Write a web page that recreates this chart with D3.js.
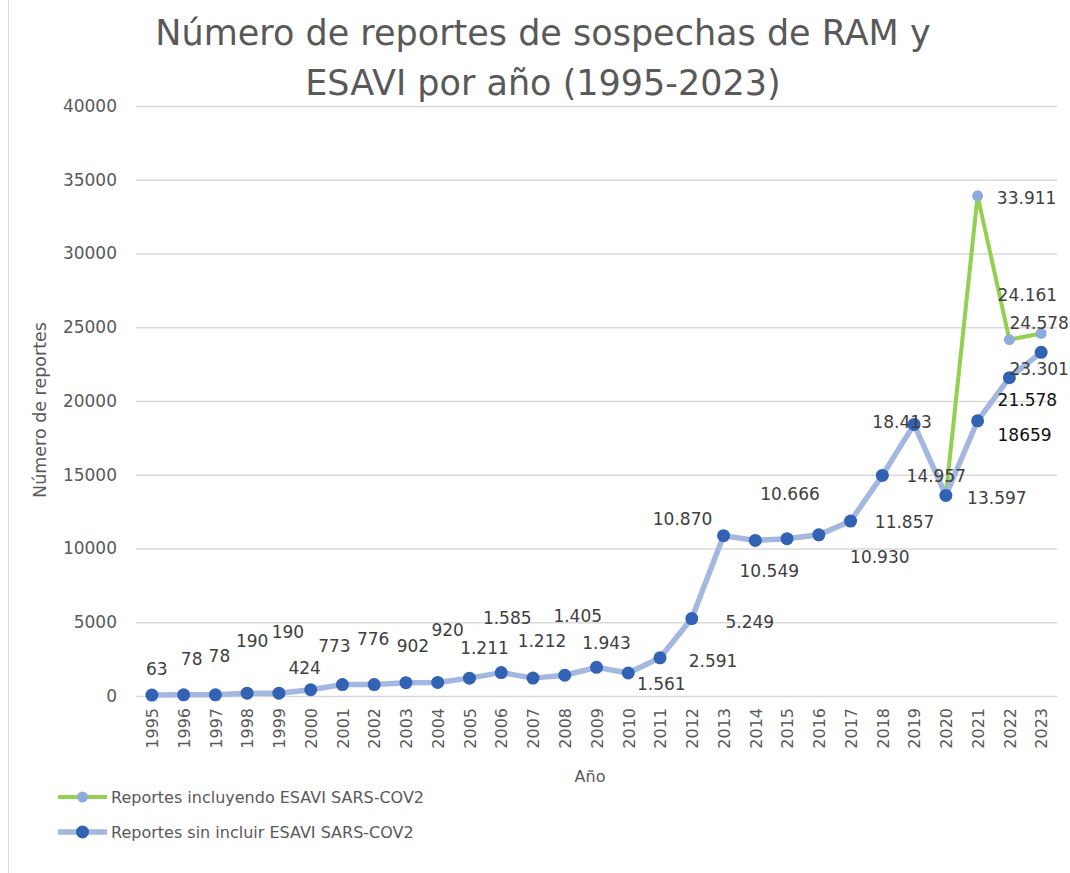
<!DOCTYPE html>
<html>
<head>
<meta charset="utf-8">
<script src="https://cdn.jsdelivr.net/npm/d3@7"></script>
<style>
  body { margin: 0; background: #fff; }
  svg { display: block; font-family: "DejaVu Sans", sans-serif; }
</style>
</head>
<body>
<div id="chart"></div>
<script>
// years on the x axis
var years = [1995, 1996, 1997, 1998, 1999, 2000, 2001, 2002, 2003, 2004, 2005, 2006, 2007, 2008,
  2009, 2010, 2011, 2012, 2013, 2014, 2015, 2016, 2017, 2018, 2019, 2020, 2021, 2022, 2023];

// reports without ESAVI SARS-COV2
var sinEsavi = [63, 78, 78, 190, 190, 424, 773, 776, 902, 920, 1211, 1585, 1212, 1405,
  1943, 1561, 2591, 5249, 10870, 10549, 10666, 10930, 11857, 14957, 18413, 13597, 18659, 21578, 23301];
var sinEsaviLabels = ["63", "78", "78", "190", "190", "424", "773", "776", "902", "920", "1.211", "1.585", "1.212", "1.405",
  "1.943", "1.561", "2.591", "5.249", "10.870", "10.549", "10.666", "10.930", "11.857", "14.957", "18.413", "13.597", "18659", "21.578", "23.301"];

// reports including ESAVI SARS-COV2
var conYears = [2020, 2021, 2022, 2023];
var conEsavi = [13597, 33911, 24161, 24578];
var conEsaviLabels = ["", "33.911", "24.161", "24.578"];

var yTicks = [0, 5000, 10000, 15000, 20000, 25000, 30000, 35000, 40000];

// where each data label sits relative to its point (px)
var sinDx = [5, 8, 4, 5, 9, -6, -8, -1, 7, 10, 15, 6, 9, 13, 10, 33, 53, 58, -41, 14, 3, 61, 54, 54, -12, 51, 47, 18, -2];
var sinDy = [-26, -36, -39, -52, -61, -22, -39, -46, -37, -53, -30, -55, -37, -59, -24, 11, 3, 3, -17, 30, -45, 22, 1, 0, -3, 2, 14, 22, 17];
var conDx = [0, 49, 18, -2];
var conDy = [0, 2, -45, -11];

var width = 1070, height = 873;
var svg = d3.select("#chart").append("svg")
  .attr("width", width)
  .attr("height", height);

// chart frame line on the left
svg.append("line")
  .attr("x1", 8.5).attr("x2", 8.5).attr("y1", 0).attr("y2", height)
  .attr("stroke", "#d9d9d9");

var x = d3.scalePoint().domain(years).range([136, 1057]).padding(0.5);
var y = d3.scaleLinear().domain([0, 40000]).range([696, 106]);

// title
svg.append("text")
  .attr("x", 543).attr("y", 0)
  .attr("text-anchor", "middle")
  .attr("fill", "#595959")
  .style("font-size", "35px")
  .selectAll("tspan")
  .data(["Número de reportes de sospechas de RAM y", "ESAVI por año (1995-2023)"])
  .join("tspan")
  .attr("x", 543)
  .attr("y", function (d, i) { return 45 + i * 50; })
  .text(function (d) { return d; });

// gridlines + y labels
var yAxis = d3.axisLeft(y).tickValues(yTicks).tickSize(-(1057 - 136)).tickPadding(19).tickFormat(d3.format("d"));
var gy = svg.append("g").attr("transform", "translate(136,0)").call(yAxis);
gy.select(".domain").remove();
gy.selectAll(".tick line").attr("stroke", "#d9d9d9").attr("stroke-width", 1.3);
gy.selectAll(".tick text").attr("fill", "#595959").style("font-size", "17px").style("font-family", "DejaVu Sans");

// x labels
var xAxis = d3.axisBottom(x).tickSize(0).tickPadding(0);
var gx = svg.append("g").attr("transform", "translate(0,708)").call(xAxis);
gx.select(".domain").remove();
gx.selectAll(".tick text")
  .attr("fill", "#595959")
  .style("font-size", "16px")
  .style("font-family", "DejaVu Sans")
  .attr("text-anchor", "end")
  .attr("transform", "rotate(-90)")
  .attr("x", 0).attr("y", 0).attr("dy", "0.36em");

// axis titles
svg.append("text")
  .attr("x", 590).attr("y", 782)
  .attr("text-anchor", "middle")
  .attr("fill", "#595959")
  .style("font-size", "16px")
  .text("Año");

svg.append("text")
  .attr("transform", "translate(46,410) rotate(-90)")
  .attr("text-anchor", "middle")
  .attr("fill", "#595959")
  .style("font-size", "17.5px")
  .text("Número de reportes");

var line = d3.line()
  .x(function (d) { return x(d[0]); })
  .y(function (d) { return y(d[1]); });

var conData = conYears.map(function (yr, i) { return [yr, conEsavi[i]]; });
var sinData = years.map(function (yr, i) { return [yr, sinEsavi[i]]; });

// green series first, blue on top
svg.append("path")
  .datum(conData)
  .attr("d", line)
  .attr("fill", "none")
  .attr("stroke", "#92d050")
  .attr("stroke-width", 4)
  .attr("stroke-linejoin", "round");

svg.selectAll(".dot-con")
  .data(conData)
  .join("circle")
  .attr("class", "dot-con")
  .attr("cx", function (d) { return x(d[0]); })
  .attr("cy", function (d) { return y(d[1]); })
  .attr("r", 5.5)
  .attr("fill", "#8faadc");

svg.append("path")
  .datum(sinData)
  .attr("d", line)
  .attr("fill", "none")
  .attr("stroke", "#a4b7e0")
  .attr("stroke-width", 5.5)
  .attr("stroke-linejoin", "round");

svg.selectAll(".dot-sin")
  .data(sinData)
  .join("circle")
  .attr("class", "dot-sin")
  .attr("cx", function (d) { return x(d[0]); })
  .attr("cy", function (d) { return y(d[1]); })
  .attr("r", 6.5)
  .attr("fill", "#3162b4");

// data labels
svg.selectAll(".lbl-sin")
  .data(sinData)
  .join("text")
  .attr("class", "lbl-sin")
  .attr("x", function (d, i) { return x(d[0]) + sinDx[i]; })
  .attr("y", function (d, i) { return y(d[1]) + sinDy[i]; })
  .attr("text-anchor", "middle")
  .attr("dy", "0.36em")
  .attr("fill", function (d, i) { return (i === 26 || i === 27) ? "#111" : "#404040"; })
  .style("font-size", "17px")
  .text(function (d, i) { return sinEsaviLabels[i]; });

svg.selectAll(".lbl-con")
  .data(conData)
  .join("text")
  .attr("class", "lbl-con")
  .attr("x", function (d, i) { return x(d[0]) + conDx[i]; })
  .attr("y", function (d, i) { return y(d[1]) + conDy[i]; })
  .attr("text-anchor", "middle")
  .attr("dy", "0.36em")
  .attr("fill", "#404040")
  .style("font-size", "17px")
  .text(function (d, i) { return conEsaviLabels[i]; });

// legend
var legend = [
  { name: "Reportes incluyendo ESAVI SARS-COV2", line: "#92d050", lw: 4, dot: "#8faadc", r: 5.5 },
  { name: "Reportes sin incluir ESAVI SARS-COV2", line: "#a4b7e0", lw: 5.5, dot: "#3162b4", r: 6.5 }
];
var lg = svg.selectAll(".legend")
  .data(legend)
  .join("g")
  .attr("class", "legend")
  .attr("transform", function (d, i) { return "translate(58," + (797 + i * 35) + ")"; });
lg.append("line")
  .attr("x1", 0).attr("x2", 49)
  .attr("stroke", function (d) { return d.line; })
  .attr("stroke-width", function (d) { return d.lw; });
lg.append("circle")
  .attr("cx", 24.5)
  .attr("r", function (d) { return d.r; })
  .attr("fill", function (d) { return d.dot; });
lg.append("text")
  .attr("x", 53)
  .attr("dy", "0.36em")
  .attr("fill", "#595959")
  .style("font-size", "16px")
  .text(function (d) { return d.name; });
</script>
</body>
</html>
